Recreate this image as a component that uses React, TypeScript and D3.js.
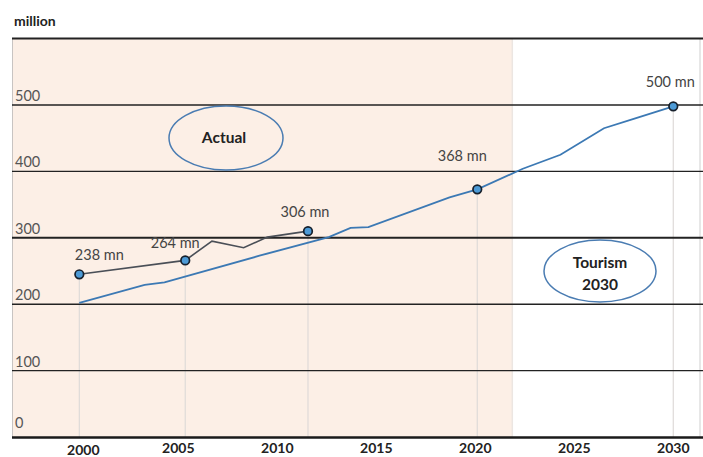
import React from "react";
import * as d3 from "d3";

const yTicks = [0, 100, 200, 300, 400, 500, 600];
const xTickYears = [2000, 2005, 2010, 2015, 2020, 2025, 2030];

// actual series (year, million)
const actualYears = [2000, 2005.35, 2006.7, 2008.3, 2009.5, 2011.55];
const actualValues = [245, 266, 295, 285, 301, 310];

// forecast series
const forecastYears = [2000, 2003.3, 2004.3, 2009.1, 2012.6, 2013.7, 2014.6, 2018.7, 2020.1, 2022.4, 2024.3, 2026.5, 2028, 2030];
const forecastValues = [202, 229, 233, 273, 301, 315, 316, 361, 373, 404, 425, 465, 479, 498];

// labelled points
const markYears = [2000, 2005.35, 2011.55, 2020.1, 2030];
const markValues = [245, 266, 310, 373, 498];
const markLabels = ["238 mn", "264 mn", "306 mn", "368 mn", "500 mn"];
const labelDx = [20, -10, -3, -15, -3];
const labelDy = [-14, -12, -14, -28, -19];

const shadeStart = 1996.6;
const shadeEnd = 2021.87;

export default function App() {
  const W = 703, H = 457;
  const x = d3.scaleLinear().domain([1996.6, 2031.35]).range([12, 700]);
  const y = d3.scaleLinear().domain([0, 600]).range([437, 38.6]);

  const actualLine = d3.line<number>()
    .x((_, i) => x(actualYears[i]))
    .y((d) => y(d));
  const forecastLine = d3.line<number>()
    .x((_, i) => x(forecastYears[i]))
    .y((d) => y(d));

  const labelFont = "Lato, 'Open Sans', sans-serif";

  return (
    <svg width={W} height={H} style={{ position: "absolute", left: 0, top: 0, background: "#fff" }}>
      <rect x={x(shadeStart)} y={y(600)} width={x(shadeEnd) - x(shadeStart)} height={y(0) - y(600)} fill="#fcefe6" />
      {/* shade boundary */}
      <line x1={x(shadeEnd)} x2={x(shadeEnd)} y1={y(600)} y2={y(0)} stroke="#ece6e2" strokeWidth={1.5} />
      {/* left & right borders */}
      <line x1={12.5} x2={12.5} y1={y(600)} y2={y(0)} stroke="#c8c4c2" strokeWidth={1} />
      <line x1={700} x2={700} y1={y(600)} y2={y(0)} stroke="#cfcfcf" strokeWidth={1} />

      {/* drop lines */}
      {markYears.map((yr, i) => (
        <line key={"d" + i} x1={x(yr)} x2={x(yr)} y1={y(markValues[i])} y2={y(0)} stroke="#dedad8" strokeWidth={1.2} />
      ))}

      {/* gridlines */}
      {yTicks.filter((t) => t > 0).map((t) => (
        <line key={t} x1={12} x2={703} y1={y(t)} y2={y(t)} stroke="#222" strokeWidth={t === 600 || t === 300 ? 2 : 1.4} />
      ))}
      <line x1={12} x2={703} y1={y(0) + 0.5} y2={y(0) + 0.5} stroke="#1a1a1a" strokeWidth={2.5} />

      {/* y tick labels */}
      {yTicks.filter((t) => t < 600).map((t) => (
        <text key={"yl" + t} x={15} y={y(t) - (t === 0 ? 9 : 4)} fontFamily={labelFont} fontSize={14.5} fill="#555">{t}</text>
      ))}
      <text x={14} y={26} fontFamily={labelFont} fontSize={14} fontWeight="bold" fill="#222">million</text>

      {/* x tick labels */}
      {xTickYears.map((yr) => (
        <text key={"xl" + yr} x={x(yr) + (yr === 2000 ? 4 : 0)} y={yr === 2000 ? 455 : 453} textAnchor="middle" fontFamily={labelFont} fontSize={14} fontWeight="bold" fill="#222">{yr}</text>
      ))}

      {/* lines */}
      <path d={forecastLine(forecastValues) || ""} fill="none" stroke="#3c79b4" strokeWidth={1.8} />
      <path d={actualLine(actualValues) || ""} fill="none" stroke="#4a4f57" strokeWidth={1.6} />

      {/* markers */}
      {markYears.map((yr, i) => (
        <circle key={"m" + i} cx={x(yr)} cy={y(markValues[i])} r={4.3} fill="#4c9ad6" stroke="#16202c" strokeWidth={1.7} />
      ))}
      {markYears.map((yr, i) => (
        <text key={"t" + i} x={x(yr) + labelDx[i]} y={y(markValues[i]) + labelDy[i]} textAnchor="middle" fontFamily={labelFont} fontSize={14.5} fill="#444">{markLabels[i]}</text>
      ))}

      {/* callouts */}
      <ellipse cx={226} cy={138} rx={57} ry={32} fill="none" stroke="#4a7cb2" strokeWidth={1.5} />
      <text x={224} y={143} textAnchor="middle" fontFamily={labelFont} fontSize={15.5} fontWeight="bold" fill="#222">Actual</text>
      <ellipse cx={600} cy={271} rx={56} ry={31} fill="none" stroke="#4a7cb2" strokeWidth={1.5} />
      <text x={600} y={268} textAnchor="middle" fontFamily={labelFont} fontSize={15.5} fontWeight="bold" fill="#222">Tourism</text>
      <text x={600} y={290} textAnchor="middle" fontFamily={labelFont} fontSize={15.5} fontWeight="bold" fill="#222">2030</text>
    </svg>
  );
}
